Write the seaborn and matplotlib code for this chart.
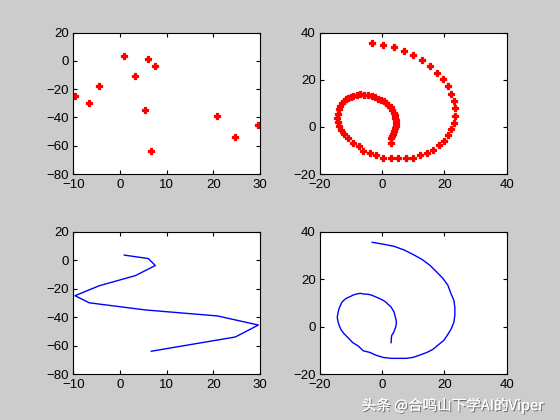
import numpy as np
import pandas as pd
import seaborn as sns
import matplotlib.pyplot as plt
import matplotlib.patheffects as pe

# 散点数据（左列）
pts_x = [0.93, 6.07, 7.57, 3.29, -4.43, -9.64, -6.57, 5.43, 20.86, 29.64, 24.71, 6.71]
pts_y = [3.5, 1.1, -3.8, -10.9, -18.0, -25.0, -30.0, -35.0, -39.2, -45.6, -54.0, -64.0]

# 螺旋线数据（右列）
spiral_x = [2.85, 2.95, 3.06, 3.49, 3.92, 4.23, 4.45, 4.56, 4.45, 4.23, 4.02, 3.81,
            3.27, 2.74, 2.00, 1.35, 0.50, -0.36, -1.21, -2.27, -3.35, -4.52, -5.91, -7.08,
            -8.26, -9.32, -10.18, -10.92, -11.67, -12.31, -12.95, -13.49, -13.91, -14.23, -14.45, -14.23,
            -13.81, -13.17, -12.21, -10.92, -9.54, -7.61, -6.12, -4.00, -1.96, 0.28, 2.85, 5.19,
            7.76, 9.89, 12.14, 14.38, 16.30, 18.22, 19.82, 21.10, 22.17, 23.02, 23.34, 23.34,
            23.02, 22.06, 21.10, 19.50, 17.58, 15.34, 12.78, 9.89, 7.01, 3.81, 0.39, -3.24]
spiral_y = [-6.8, -4.8, -3.7, -2.9, -1.7, -0.6, 0.5, 1.6, 2.8, 3.9, 5.0, 6.1,
            7.3, 8.4, 9.2, 10.1, 10.9, 11.5, 12.0, 12.6, 13.2, 13.6, 13.7, 14.0,
            13.7, 13.3, 12.7, 12.3, 11.8, 11.1, 10.2, 8.8, 7.4, 5.6, 3.9, 2.2,
            0.4, -1.5, -3.1, -4.8, -6.7, -8.3, -10.2, -10.9, -12.1, -13.0, -13.4, -13.4,
            -13.4, -13.0, -12.0, -10.9, -9.6, -7.5, -5.8, -3.3, -1.0, 1.8, 4.7, 8.1,
            11.1, 14.0, 17.4, 20.3, 22.9, 25.8, 28.3, 30.4, 32.3, 33.8, 34.7, 35.5]

pts_df = pd.DataFrame({'x': pts_x, 'y': pts_y})
spiral_df = pd.DataFrame({'x': spiral_x, 'y': spiral_y})

plt.rcParams['font.family'] = ['Liberation Sans', 'DejaVu Sans']
plt.rcParams['font.size'] = 9.5

fig = plt.figure(figsize=(5.6, 4.2), dpi=100, facecolor='#cccccc')
w, h = 0.3334, 0.3365
ax1 = fig.add_axes([0.1309, 0.5857, w, h])
ax2 = fig.add_axes([0.5714, 0.5857, w, h])
ax3 = fig.add_axes([0.1309, 0.1095, w, 0.339])
ax4 = fig.add_axes([0.5714, 0.1095, w, 0.339])

sns.scatterplot(data=pts_df, x='x', y='y', ax=ax1, marker='P', color='red', s=18,
                linewidth=0.9, edgecolor='red')
sns.scatterplot(data=spiral_df, x='x', y='y', ax=ax2, marker='P', color='red', s=18,
                linewidth=0.9, edgecolor='red')
sns.lineplot(data=pts_df, x='x', y='y', ax=ax3, sort=False, estimator=None, color='blue', linewidth=1)
sns.lineplot(data=spiral_df, x='x', y='y', ax=ax4, sort=False, estimator=None, color='blue', linewidth=1)

for ax in (ax1, ax3):
    ax.set_xlim(-10, 30)
    ax.set_ylim(-80, 20)
    ax.set_xticks([-10, 0, 10, 20, 30])
    ax.set_yticks([-80, -60, -40, -20, 0, 20])
for ax in (ax2, ax4):
    ax.set_xlim(-20, 40)
    ax.set_ylim(-20, 40)
    ax.set_xticks([-20, 0, 20, 40])
    ax.set_yticks([-20, 0, 20, 40])

for ax in (ax1, ax2, ax3, ax4):
    ax.set_facecolor('white')
    ax.set_xlabel('')
    ax.set_ylabel('')
    ax.tick_params(direction='in', length=3, width=0.8, top=True, right=True,
                   labelsize=9.5, colors='black')
    ax.tick_params(axis='x', pad=3.5)
    ax.tick_params(axis='y', pad=3)
    for sp in ax.spines.values():
        sp.set_linewidth(0.8)
        sp.set_color('black')

# 水印
fig.text(0.972, 0.035, '头条 @合鸣山下学AI的Viper', ha='right', va='center',
         fontsize=10.5, color='white', family=['Noto Sans CJK SC', 'DejaVu Sans'],
         path_effects=[pe.withSimplePatchShadow(offset=(0.8, -0.8), shadow_rgbFace='#555555', alpha=0.8), pe.Normal()])

plt.savefig('out.png', dpi=100, facecolor=fig.get_facecolor())
